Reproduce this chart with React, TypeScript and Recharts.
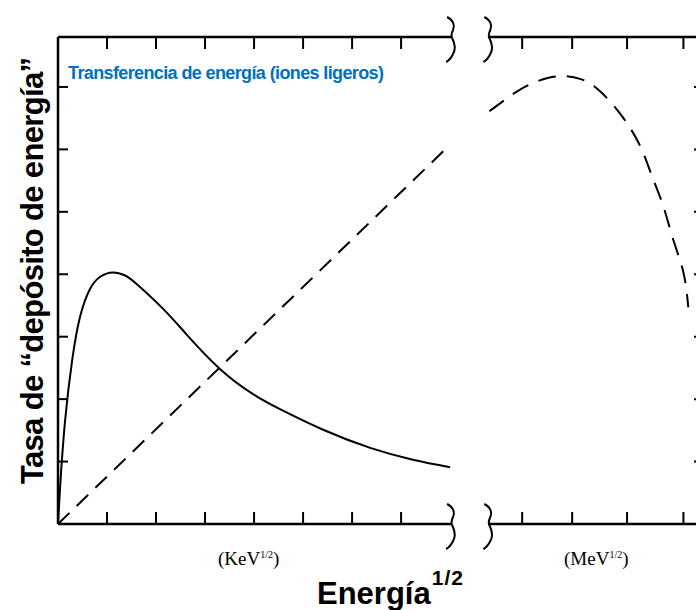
import React from "react";
import { LineChart, Line, XAxis, YAxis, ReferenceLine, ReferenceDot } from "recharts";

// axis scale: x in tick units (KeV side 0..8, MeV side after the break), y in tick units
const X_MAX = 13.18;
const Y_MAX = 7.8;
const X_TICKS = [1, 2, 3, 4, 5, 6, 7, 9.47, 10.49, 11.61, 12.76];
const Y_TICKS = [1, 2, 3, 4, 5, 6, 7];
const BREAK_START = 8.02;
const BREAK_END = 8.78;

// solid curve (low energy, KeV side)
const lowEnergyCurve = [
  { x: 0, y: 0 },
  { x: 0.04, y: 0.55 },
  { x: 0.14, y: 1.62 },
  { x: 0.29, y: 2.63 },
  { x: 0.45, y: 3.32 },
  { x: 0.65, y: 3.76 },
  { x: 0.86, y: 3.96 },
  { x: 1.12, y: 4.03 },
  { x: 1.37, y: 3.98 },
  { x: 1.61, y: 3.84 },
  { x: 2.14, y: 3.45 },
  { x: 2.63, y: 3.03 },
  { x: 3.31, y: 2.48 },
  { x: 3.98, y: 2.08 },
  { x: 4.53, y: 1.84 },
  { x: 5.41, y: 1.51 },
  { x: 6.37, y: 1.22 },
  { x: 7.24, y: 1.03 },
  { x: 8.0, y: 0.91 },
];

// dashed, KeV side (straight rise)
const dashedRise = [
  { x: 0, y: 0 },
  { x: 7.9, y: 6.0 },
];

// dashed, MeV side
const dashedPeak = [
  { x: 8.8, y: 6.61 },
  { x: 9.37, y: 6.93 },
  { x: 9.78, y: 7.09 },
  { x: 10.18, y: 7.17 },
  { x: 10.65, y: 7.13 },
  { x: 11.06, y: 6.93 },
  { x: 11.51, y: 6.53 },
  { x: 11.88, y: 6.05 },
  { x: 12.12, y: 5.57 },
  { x: 12.35, y: 5.09 },
  { x: 12.55, y: 4.56 },
  { x: 12.76, y: 4.03 },
  { x: 12.86, y: 3.47 },
];

const Squiggle = (props: any) => {
  const { cx, cy } = props;
  return (
    <path
      transform={`translate(${cx},${cy})`}
      d="M -4 -20 C 2 -17, 4 -12, 2 -7 C 0 -3, 0 -1, 1 1 C 3 5, 5 12, 2 17 C 0 21, -3 24, -5 25"
      fill="none"
      stroke="#000"
      strokeWidth={2}
    />
  );
};

const axisCommon = {
  stroke: "#000",
  tickLine: { stroke: "#000", strokeWidth: 2 },
  tickFormatter: () => "",
  allowDataOverflow: true,
};

const bold = "'Liberation Sans', Arial, sans-serif";
const serif = "'Liberation Serif', 'Times New Roman', serif";

export default function App() {
  return (
    <div
      style={{
        position: "fixed",
        left: 0,
        top: 0,
        width: 696,
        height: 610,
        overflow: "hidden",
        background: "#fff",
      }}
    >
      <LineChart width={712} height={610} margin={{ top: 0, right: 0, bottom: 0, left: 0 }}>
        <XAxis
          {...axisCommon}
          xAxisId="bottom"
          type="number"
          dataKey="x"
          domain={[0, X_MAX]}
          ticks={X_TICKS}
          height={86}
          axisLine={false}
          tickSize={-12}
        />
        <XAxis
          {...axisCommon}
          xAxisId="top"
          orientation="top"
          type="number"
          dataKey="x"
          domain={[0, X_MAX]}
          ticks={X_TICKS}
          height={37}
          axisLine={false}
          tickSize={-12}
        />
        <YAxis
          {...axisCommon}
          yAxisId="left"
          type="number"
          domain={[0, Y_MAX]}
          ticks={Y_TICKS}
          width={58}
          axisLine={{ stroke: "#000", strokeWidth: 2.5 }}
          tickSize={-10}
        />
        <YAxis
          {...axisCommon}
          yAxisId="right"
          orientation="right"
          type="number"
          domain={[0, Y_MAX]}
          ticks={Y_TICKS}
          width={8}
          axisLine={{ stroke: "#000", strokeWidth: 2.5 }}
          tickSize={-10}
        />

        {/* broken top and bottom frame */}
        <ReferenceLine xAxisId="bottom" yAxisId="left" segment={[{ x: 0, y: 0 }, { x: BREAK_START, y: 0 }]} stroke="#000" strokeWidth={2.5} ifOverflow="visible" />
        <ReferenceLine xAxisId="bottom" yAxisId="left" segment={[{ x: BREAK_END, y: 0 }, { x: X_MAX, y: 0 }]} stroke="#000" strokeWidth={2.5} ifOverflow="visible" />
        <ReferenceLine xAxisId="bottom" yAxisId="left" segment={[{ x: 0, y: Y_MAX }, { x: BREAK_START, y: Y_MAX }]} stroke="#000" strokeWidth={2.5} ifOverflow="visible" />
        <ReferenceLine xAxisId="bottom" yAxisId="left" segment={[{ x: BREAK_END, y: Y_MAX }, { x: X_MAX, y: Y_MAX }]} stroke="#000" strokeWidth={2.5} ifOverflow="visible" />
        <ReferenceDot xAxisId="bottom" yAxisId="left" x={BREAK_START} y={0} r={0} shape={Squiggle} ifOverflow="visible" />
        <ReferenceDot xAxisId="bottom" yAxisId="left" x={BREAK_END} y={0} r={0} shape={Squiggle} ifOverflow="visible" />
        <ReferenceDot xAxisId="bottom" yAxisId="left" x={BREAK_START} y={Y_MAX} r={0} shape={Squiggle} ifOverflow="visible" />
        <ReferenceDot xAxisId="bottom" yAxisId="left" x={BREAK_END} y={Y_MAX} r={0} shape={Squiggle} ifOverflow="visible" />

        <Line
          xAxisId="bottom"
          yAxisId="left"
          data={lowEnergyCurve}
          dataKey="y"
          type="natural"
          stroke="#000"
          strokeWidth={2}
          dot={false}
          isAnimationActive={false}
        />
        <Line
          xAxisId="top"
          yAxisId="right"
          data={dashedRise}
          dataKey="y"
          type="linear"
          stroke="#000"
          strokeWidth={2}
          strokeDasharray="16 10"
          dot={false}
          isAnimationActive={false}
        />
        <Line
          xAxisId="top"
          yAxisId="right"
          data={dashedPeak}
          dataKey="y"
          type="natural"
          stroke="#000"
          strokeWidth={2}
          strokeDasharray="18 11"
          dot={false}
          isAnimationActive={false}
        />
      </LineChart>

      <svg
        width={696}
        height={610}
        style={{ position: "absolute", left: 0, top: 0, pointerEvents: "none" }}
      >
        <text x={68} y={79} fontFamily={bold} fontWeight="bold" fontSize={18} fill="#0070C0" textLength={316} lengthAdjust="spacing">
          Transferencia de energía (iones ligeros)
        </text>
        <text
          transform="translate(43,484) rotate(-90)"
          fontFamily={bold}
          fontWeight="bold"
          fontSize={31}
          fill="#000"
          textLength={427}
          lengthAdjust="spacing"
        >
          Tasa de “depósito de energía”
        </text>
        <text x={317} y={604} fontFamily={bold} fontWeight="bold" fontSize={31} fill="#000">
          Energía
          <tspan fontSize={21} dx={1} dy={-19} letterSpacing={1}>1/2</tspan>
        </text>
        <text x={218} y={565} fontFamily={serif} fontSize={19} fill="#000">
          (KeV
          <tspan fontSize={10} dy={-7}>1/2</tspan>
          <tspan dy={7}>)</tspan>
        </text>
        <text x={564} y={565} fontFamily={serif} fontSize={19} fill="#000">
          (MeV
          <tspan fontSize={10} dy={-7}>1/2</tspan>
          <tspan dy={7}>)</tspan>
        </text>
      </svg>
    </div>
  );
}
